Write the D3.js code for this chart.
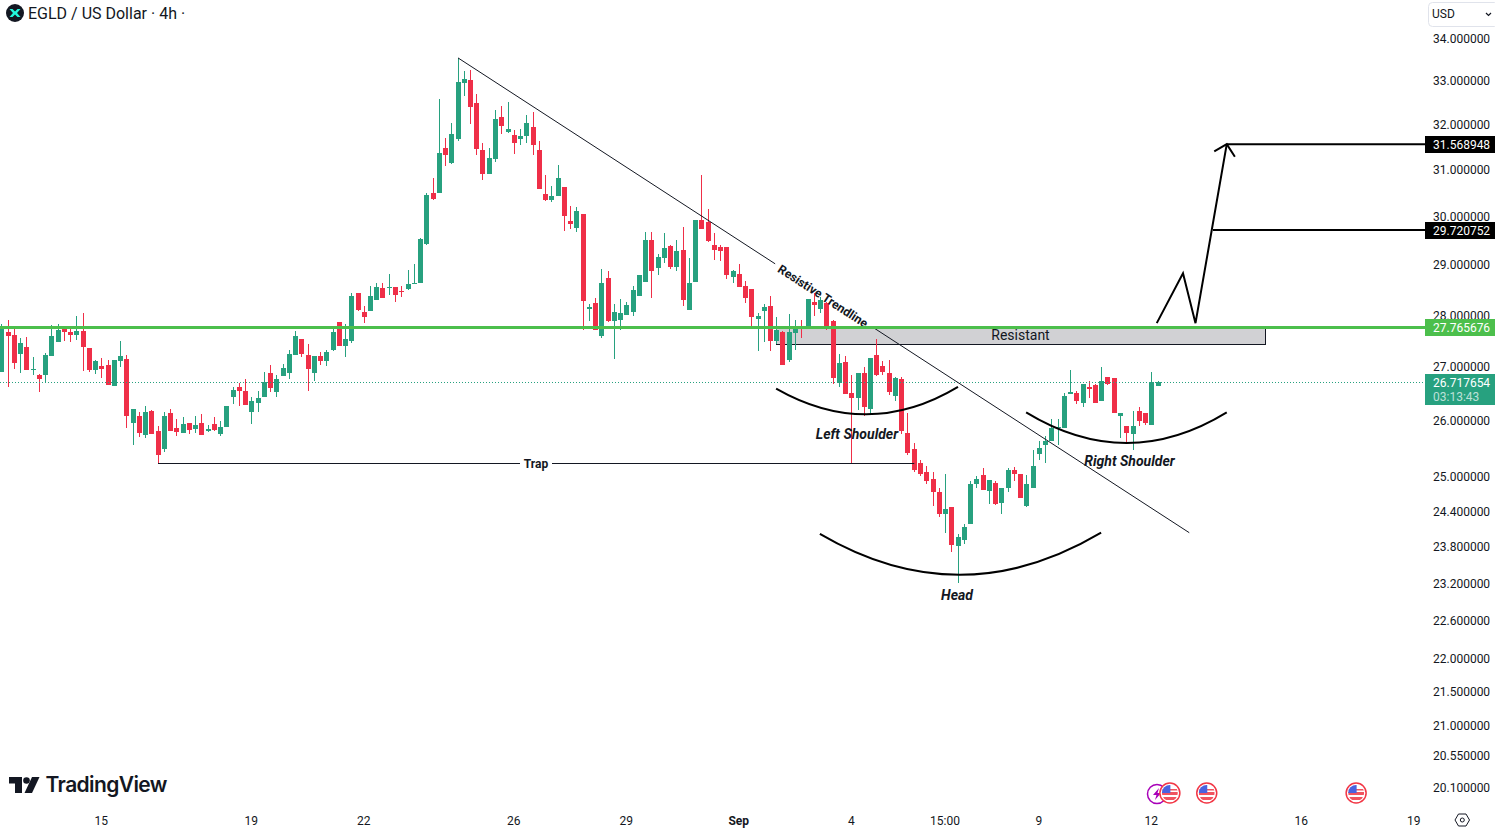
<!DOCTYPE html>
<html>
<head>
    <meta charset="utf-8">
    <script src="https://d3js.org/d3.v7.min.js"></script>
    <style>
        html, body{
            margin: 0;
            padding: 0;
            background: #fff;
            overflow: hidden;
        }

        svg{
            display: block;
            font-family: Roboto, sans-serif;
        }

        .axis .domain, .axis line{
            display: none;
        }

        .axis text{
            font-family: Roboto, sans-serif;
            font-size: 12px;
            fill: #131722;
        }

        .note{
            font-weight: 700;
            font-style: italic;
            font-size: 14px;
            fill: #131722;
            text-anchor: middle;
        }

        .price-tag{
            font-size: 12px;
            fill: #fff;
        }
    </style>
</head>
<body>
    <div id="chart"></div>
    <script>
        // 4h candles
        var opens = [
            26.90,27.66,27.60,27.24,27.38,26.94,26.85,26.85,27.21,27.47,
            27.78,27.66,27.60,27.68,27.36,26.94,27.01,27.03,26.64,27.11,
            27.15,25.95,26.09,25.74,26.18,25.81,25.49,26.13,25.87,25.78,
            25.95,25.85,25.95,25.81,25.94,25.76,25.88,26.44,26.62,26.55,
            26.15,26.33,26.44,26.88,26.53,26.83,26.88,27.23,27.53,27.23,
            26.88,27.21,27.11,27.32,27.86,27.40,27.49,28.43,28.05,28.07,
            28.29,28.53,28.53,28.55,28.47,28.51,28.61,28.63,29.44,30.51,
            30.51,31.49,31.16,31.69,32.96,33.03,32.50,31.45,30.92,31.25,
            32.18,31.85,31.78,31.69,31.76,31.96,31.45,30.49,30.36,30.43,
            30.64,29.92,29.77,30.06,28.11,28.23,27.58,28.73,27.88,27.90,
            28.00,28.05,28.37,28.65,29.52,28.93,29.15,29.38,28.95,29.30,
            28.09,28.65,29.94,29.88,29.40,29.36,29.36,28.75,28.81,28.57,
            28.51,27.92,28.07,28.17,27.49,27.66,27.13,27.64,27.74,27.72,
            28.25,28.11,28.23,27.88,26.70,27.09,26.51,26.42,26.88,26.22,
            27.23,27.01,26.88,26.46,26.77,25.78,25.49,25.24,25.07,24.96,
            24.72,24.35,24.46,23.81,23.91,24.18,24.86,25.03,24.75,24.89,
            24.54,24.80,25.12,25.05,24.49,24.79,25.40,25.56,25.63,25.87,
            25.87,26.49,26.51,26.33,26.62,26.66,26.35,26.81,26.79,26.09,
            25.90,25.76,26.18,26.13,25.92,26.64
        ];
        var highs = [
            27.82,27.90,27.72,27.55,27.57,27.19,26.86,27.26,27.80,27.82,
            27.78,27.78,27.98,28.03,27.36,27.13,27.17,27.13,27.13,27.49,
            27.23,26.22,26.16,26.27,26.20,25.90,26.16,26.22,26.02,26.07,
            25.95,26.09,26.11,25.92,26.07,25.99,26.27,26.62,26.70,26.77,
            26.44,26.55,26.90,27.03,26.85,27.05,27.32,27.68,27.53,27.43,
            27.21,27.28,27.32,27.72,27.86,27.82,28.43,28.43,28.17,28.57,
            28.63,28.63,28.81,28.55,28.57,28.89,29.03,29.56,30.51,30.83,
            32.59,31.71,32.05,33.54,33.24,33.26,32.69,31.60,31.49,32.34,
            32.43,32.52,31.89,31.91,32.23,32.30,31.63,30.90,30.66,31.12,
            30.64,30.23,30.21,30.06,28.21,28.33,28.91,28.87,28.21,28.31,
            28.25,28.57,28.79,29.67,29.67,29.22,29.65,29.42,29.52,29.79,
            29.15,29.94,30.90,30.17,29.65,29.42,29.36,28.89,29.03,28.67,
            28.51,28.03,28.21,28.37,27.96,27.68,28.01,27.90,27.90,28.31,
            28.43,28.35,28.25,27.90,27.24,27.21,26.85,26.88,26.99,27.17,
            27.53,27.11,27.13,26.81,26.81,26.13,25.60,25.28,25.19,25.07,
            24.80,25.05,24.46,24.01,24.18,24.91,25.01,25.14,24.94,24.92,
            24.80,25.14,25.17,25.05,25.03,25.47,25.63,25.72,26.02,26.02,
            26.51,26.94,26.55,26.68,26.73,26.68,26.99,26.81,26.79,26.13,
            25.90,26.18,26.24,26.13,26.90,26.73
        ];
        var lows = [
            26.90,26.62,26.96,26.88,26.94,26.85,26.53,26.71,27.21,27.47,
            27.49,27.47,27.51,26.92,26.90,26.86,26.79,26.66,26.64,26.99,
            25.87,25.56,25.70,25.69,25.76,25.24,25.44,25.81,25.72,25.78,
            25.76,25.78,25.74,25.79,25.81,25.72,25.88,26.31,26.27,26.29,
            25.94,26.16,26.44,26.53,26.44,26.83,26.77,27.23,27.19,26.55,
            26.73,27.03,27.01,27.30,27.40,27.19,27.45,28.07,27.84,28.07,
            28.29,28.33,28.39,28.25,28.35,28.49,28.61,28.63,29.40,30.36,
            30.51,31.08,31.14,31.63,32.66,32.01,31.34,30.79,30.92,31.18,
            31.80,31.82,31.36,31.54,31.60,31.32,30.58,30.34,30.32,30.43,
            29.71,29.75,29.69,27.70,27.88,27.70,27.55,27.86,27.15,27.70,
            28.00,27.98,28.37,28.65,28.33,28.79,29.05,28.91,28.87,28.17,
            28.09,28.65,29.75,29.48,29.11,29.09,28.71,28.63,28.55,28.23,
            27.72,27.30,27.47,27.30,27.43,27.03,27.09,27.32,27.55,27.72,
            27.98,28.03,27.70,26.68,26.62,26.49,25.21,26.20,26.09,26.11,
            26.83,26.85,26.47,26.36,25.76,25.37,25.07,25.01,24.87,24.49,
            24.30,24.03,23.70,23.19,23.84,24.18,24.79,24.77,24.52,24.51,
            24.35,24.73,24.92,24.63,24.47,24.79,25.29,25.23,25.63,25.56,
            25.87,26.49,26.31,26.25,26.42,26.33,26.35,26.66,26.13,25.69,
            25.61,25.47,25.90,25.92,25.92,26.64
        ];
        var closes = [
            27.74,27.58,27.07,27.45,26.94,26.96,26.77,27.23,27.58,27.70,
            27.66,27.60,27.68,27.38,26.94,27.11,26.96,26.66,27.13,27.21,
            26.09,26.22,25.78,26.16,25.76,25.37,26.09,25.81,25.79,25.94,
            25.83,25.92,25.74,25.85,25.83,25.88,26.27,26.57,26.55,26.29,
            26.35,26.42,26.71,26.60,26.77,26.98,27.24,27.58,27.24,26.96,
            27.21,27.11,27.28,27.66,27.40,27.53,28.37,28.09,27.96,28.37,
            28.55,28.33,28.55,28.39,28.45,28.61,28.63,29.54,30.47,30.38,
            31.38,31.34,31.80,32.98,33.05,32.41,31.47,30.92,31.27,32.12,
            31.98,31.91,31.60,31.74,32.03,31.56,30.58,30.36,30.45,30.83,
            30.02,29.84,30.13,28.27,28.15,27.70,28.63,27.88,28.05,28.03,
            28.19,28.49,28.79,29.52,28.87,29.17,29.34,28.95,29.28,28.29,
            28.63,29.94,29.75,29.50,29.30,29.28,28.79,28.87,28.55,28.33,
            27.96,27.98,28.15,27.49,27.70,27.03,27.66,27.74,27.72,28.31,
            28.19,28.29,27.78,26.79,27.07,26.49,26.42,26.88,26.24,27.17,
            26.85,26.90,26.53,26.79,25.81,25.42,25.12,25.05,24.91,24.72,
            24.35,24.44,23.83,23.96,24.13,24.87,24.96,24.77,24.94,24.52,
            24.80,25.12,25.05,24.63,24.87,25.19,25.51,25.63,25.87,25.88,
            26.46,26.53,26.35,26.68,26.59,26.33,26.73,26.68,26.13,26.13,
            25.78,25.90,25.99,25.95,26.71,26.72
        ];

        // axis ticks
        var priceTicks = [34, 33, 32, 31, 30, 29, 28, 27, 26, 25, 24.4, 23.8, 23.2, 22.6, 22, 21.5, 21, 20.55, 20.1];
        var timeTicks = [16, 40, 58, 82, 100, 118, 136, 151, 166, 184, 208, 226];
        var timeLabels = ["15", "19", "22", "26", "29", "Sep", "4", "15:00", "9", "12", "16", "19"];

        // price levels
        var lastPrice = 26.717654;
        var resistLevel = 27.765676;
        var targetOne = 29.720752;
        var targetTwo = 31.568948;
        var trapPrice = 25.235;

        // drawings, [candle index, price]
        var trendPoints = [[73, 33.54], [190, 24.03]];
        var zoneCorners = [[123.9, 27.765676], [202.1, 27.42]];
        var leftArc = [[123.9, 26.59], [138.6, 25.63], [153, 26.62]];
        var headArc = [[130.9, 24.01], [153.4, 22.66], [175.9, 24.03]];
        var rightArc = [[163.9, 26.15], [180, 25.05], [196, 26.15]];
        var arrowPath = [[184.8, 27.84], [189, 28.83], [191, 27.84], [196, 31.568948]];
        var arrowHead = [[194, 31.41], [196, 31.568948], [197.3, 31.29]];
        var trapSpan = [25, 146];
        var targetOneStart = 193.8;
        var eventSlots = [186.9, 192.8, 216.7];

        var width = 1495,
            height = 831;

        var x = d3.scaleLinear().domain([0, 226]).range([1.75, 1414.25]);
        var y = d3.scaleLog().domain([34, 20.1]).range([38.5, 787]);
        // same scale, nudged so the label rows land where the reference has them
        var yAxisScale = y.copy().range([38.3, 787.6]);

        var green = "#27a17f",
            red = "#ef2f48",
            dark = "#131722",
            levelGreen = "#4cbf4c";

        var svg = d3.select("#chart").append("svg")
            .attr("width", width)
            .attr("height", height)
            .style("background", "#fff");

        var candles = d3.range(opens.length).map(function(i) {
            return {i: i, o: opens[i], h: highs[i], l: lows[i], c: closes[i]};
        });

        function crisp(v) {
            return Math.round(v - 0.5) + 0.5;
        }

        var line = d3.line()
            .x(function(d) { return x(d[0]); })
            .y(function(d) { return y(d[1]); });

        // quadratic arc through a control point, for the head and shoulders
        function arcPath(p) {
            var path = d3.path();
            path.moveTo(x(p[0][0]), y(p[0][1]));
            path.quadraticCurveTo(x(p[1][0]), y(p[1][1]), x(p[2][0]), y(p[2][1]));
            return path.toString();
        }

        // resistance zone goes under the candles
        svg.append("rect")
            .attr("x", crisp(x(zoneCorners[0][0])))
            .attr("y", crisp(y(zoneCorners[0][1])))
            .attr("width", Math.round(x(zoneCorners[1][0]) - x(zoneCorners[0][0])))
            .attr("height", Math.round(y(zoneCorners[1][1]) - y(zoneCorners[0][1])))
            .attr("fill", "#d1d1d4")
            .attr("stroke", dark)
            .attr("stroke-width", 1);

        // candles
        var candle = svg.append("g").attr("shape-rendering", "crispEdges")
            .selectAll("g")
            .data(candles)
            .enter().append("g")
            .attr("fill", function(d) { return d.c >= d.o ? green : red; })
            .attr("stroke", function(d) { return d.c >= d.o ? green : red; });

        candle.append("line")
            .attr("x1", function(d) { return crisp(x(d.i)); })
            .attr("x2", function(d) { return crisp(x(d.i)); })
            .attr("y1", function(d) { return y(d.h); })
            .attr("y2", function(d) { return y(d.l); });

        candle.append("rect")
            .attr("x", function(d) { return crisp(x(d.i)) - 2.5; })
            .attr("width", 5)
            .attr("y", function(d) { return Math.round(y(Math.max(d.o, d.c))); })
            .attr("height", function(d) { return Math.max(1, Math.round(y(Math.min(d.o, d.c))) - Math.round(y(Math.max(d.o, d.c)))); })
            .attr("stroke", "none");

        // last price dotted line
        svg.append("line")
            .attr("x1", 0)
            .attr("x2", 1425)
            .attr("y1", Math.round(y(lastPrice)) + 0.5)
            .attr("y2", Math.round(y(lastPrice)) + 0.5)
            .attr("stroke", green)
            .attr("stroke-dasharray", "1,2");

        // trend line, broken where its label sits
        var tx = d3.interpolateNumber(trendPoints[0][0], trendPoints[1][0]);
        var tp = d3.interpolateNumber(y(trendPoints[0][1]), y(trendPoints[1][1]));
        [[0, 0.4337], [0.5677, 1]].forEach(function(s) {
            svg.append("line")
                .attr("x1", x(tx(s[0])))
                .attr("y1", tp(s[0]))
                .attr("x2", x(tx(s[1])))
                .attr("y2", tp(s[1]))
                .attr("stroke", dark)
                .attr("stroke-width", 1);
        });

        svg.append("text")
            .attr("class", "note")
            .attr("transform", "translate(823,296) rotate(33)")
            .attr("dy", "0.35em")
            .style("font-style", "normal")
            .style("font-size", "12.2px")
            .text("Resistive Trendline");

        // trap line
        var trapY = crisp(y(trapPrice));
        [[x(trapSpan[0]), 520], [552, x(trapSpan[1])]].forEach(function(s) {
            svg.append("line")
                .attr("x1", s[0]).attr("x2", s[1])
                .attr("y1", trapY).attr("y2", trapY)
                .attr("stroke", dark);
        });
        svg.append("text")
            .attr("class", "note")
            .attr("x", 536)
            .attr("y", trapY)
            .attr("dy", "0.35em")
            .style("font-style", "normal")
            .style("font-size", "12px")
            .text("Trap");

        // head and shoulders
        [leftArc, headArc, rightArc].forEach(function(a) {
            svg.append("path")
                .attr("d", arcPath(a))
                .attr("fill", "none")
                .attr("stroke", "#000")
                .attr("stroke-width", 2);
        });

        svg.append("text").attr("class", "note").attr("x", 857).attr("y", 439).text("Left Shoulder");
        svg.append("text").attr("class", "note").attr("x", 1129.5).attr("y", 466).text("Right Shoulder");
        svg.append("text").attr("class", "note").attr("x", 957).attr("y", 600).text("Head");

        svg.append("text")
            .attr("x", 1020.5)
            .attr("y", 335)
            .attr("dy", "0.35em")
            .attr("text-anchor", "middle")
            .attr("font-size", 14)
            .attr("fill", dark)
            .text("Resistant");

        // projected move
        svg.append("path")
            .attr("d", line(arrowPath))
            .attr("fill", "none")
            .attr("stroke", "#000")
            .attr("stroke-width", 2);
        svg.append("path")
            .attr("d", line(arrowHead))
            .attr("fill", "none")
            .attr("stroke", "#000")
            .attr("stroke-width", 2);
        svg.append("line")
            .attr("x1", x(arrowPath[3][0])).attr("x2", 1425)
            .attr("y1", y(targetTwo)).attr("y2", y(targetTwo))
            .attr("stroke", "#000").attr("stroke-width", 2);
        svg.append("line")
            .attr("x1", x(targetOneStart)).attr("x2", 1425)
            .attr("y1", y(targetOne)).attr("y2", y(targetOne))
            .attr("stroke", "#000").attr("stroke-width", 2);

        // resistance level
        svg.append("line")
            .attr("x1", 0).attr("x2", 1425)
            .attr("y1", Math.round(y(resistLevel)) + 0.5).attr("y2", Math.round(y(resistLevel)) + 0.5)
            .attr("stroke", levelGreen)
            .attr("stroke-width", 3);

        // axes
        svg.append("g")
            .attr("class", "axis")
            .attr("transform", "translate(1433,0.09)")
            .call(d3.axisRight(yAxisScale)
                .tickValues(priceTicks)
                .tickSize(0)
                .tickPadding(0)
                .tickFormat(function(d) { return d.toFixed(6); }));

        svg.append("g")
            .attr("class", "axis")
            .attr("transform", "translate(-1,816)")
            .call(d3.axisBottom(x)
                .tickValues(timeTicks)
                .tickSize(0)
                .tickPadding(0)
                .tickFormat(function(d, i) { return timeLabels[i]; }))
            .selectAll("text")
            .style("font-weight", function(d, i) { return timeLabels[i] == "Sep" ? 700 : 400; });

        // price tags on the axis
        function priceTag(price, fill) {
            var py = Math.round(y(price));
            svg.append("rect")
                .attr("x", 1425).attr("y", py - 8)
                .attr("width", 70).attr("height", 17)
                .attr("fill", fill);
            svg.append("text")
                .attr("class", "price-tag")
                .attr("x", 1433).attr("y", py + 0.5)
                .attr("dy", "0.35em")
                .text(price.toFixed(6));
        }
        priceTag(targetTwo, "#000");
        priceTag(targetOne, "#000");
        priceTag(resistLevel, levelGreen);

        svg.append("rect")
            .attr("x", 1425).attr("y", 374)
            .attr("width", 70).attr("height", 31)
            .attr("fill", green);
        svg.append("text")
            .attr("class", "price-tag")
            .attr("x", 1433).attr("y", 383)
            .attr("dy", "0.35em")
            .text(lastPrice.toFixed(6));
        svg.append("text")
            .attr("class", "price-tag")
            .attr("x", 1433).attr("y", 397)
            .attr("dy", "0.35em")
            .attr("fill-opacity", 0.7)
            .text("03:13:43");

        // header
        var logo = svg.append("g").attr("transform", "translate(15,13)");
        logo.append("circle").attr("r", 9).attr("fill", dark);
        logo.append("path")
            .attr("d", "M-5.5,-4 L-2.5,-4 L0,-1.4 L2.5,-4 L5.5,-4 L2,0 L5.5,4 L2.5,4 L0,1.4 L-2.5,4 L-5.5,4 L-2,0 Z")
            .attr("fill", "#23f7dd");

        svg.append("text")
            .attr("x", 28)
            .attr("y", 13)
            .attr("dy", "0.35em")
            .attr("font-size", 16)
            .attr("fill", dark)
            .text("EGLD / US Dollar · 4h ·");

        // currency box
        svg.append("rect")
            .attr("x", 1428.5).attr("y", 2.5)
            .attr("width", 70).attr("height", 24)
            .attr("rx", 4)
            .attr("fill", "#fff")
            .attr("stroke", "#e0e3eb");
        svg.append("text")
            .attr("x", 1432).attr("y", 14)
            .attr("dy", "0.35em")
            .attr("font-size", 12)
            .attr("fill", dark)
            .text("USD");
        svg.append("path")
            .attr("d", "M1486,13 L1488.5,15.5 L1491,13")
            .attr("fill", "none")
            .attr("stroke", dark)
            .attr("stroke-width", 1.2);

        // TradingView mark
        var tv = svg.append("g").attr("fill", dark);
        tv.append("path").attr("d", "M9,777 H22 V793 H15 V783.5 H9 Z");
        tv.append("circle").attr("cx", 26.5).attr("cy", 780.5).attr("r", 3.3);
        tv.append("path").attr("d", "M32,777 H39.5 L32,793 H24.5 Z");
        tv.append("text")
            .attr("x", 45.5)
            .attr("y", 792)
            .attr("font-family", "Inter, sans-serif")
            .attr("font-weight", 600)
            .attr("font-size", 21)
            .attr("textLength", 122)
            .text("TradingView");

        // economic calendar markers
        var bolt = svg.append("g").attr("transform", "translate(1157,794)");
        bolt.append("circle").attr("r", 9.5).attr("fill", "#fff").attr("stroke", "#a800b8").attr("stroke-width", 1.5);
        bolt.append("path").attr("d", "M2,-6 L-4,1 L-0.5,1 L-2,6 L4,-1 L0.5,-1 Z").attr("fill", "#a800b8");

        eventSlots.forEach(function(slot, n) {
            var g = svg.append("g").attr("transform", "translate(" + x(slot) + ",793)");
            g.append("circle").attr("r", 10).attr("fill", "#fff").attr("stroke", "#f23645").attr("stroke-width", 1.5);
            g.append("clipPath").attr("id", "flag" + n).append("circle").attr("r", 8);
            var flag = g.append("g").attr("clip-path", "url(#flag" + n + ")");
            flag.append("rect").attr("x", -8).attr("y", -8).attr("width", 16).attr("height", 16).attr("fill", "#fff");
            flag.append("rect").attr("x", -8).attr("y", -1).attr("width", 16).attr("height", 3).attr("fill", "#f0535f");
            flag.append("rect").attr("x", -8).attr("y", 4).attr("width", 16).attr("height", 3).attr("fill", "#f0535f");
            flag.append("rect").attr("x", -8).attr("y", -4).attr("width", 16).attr("height", 1.5).attr("fill", "#f0535f");
            flag.append("rect").attr("x", -8).attr("y", -8).attr("width", 8.5).attr("height", 8).attr("fill", "#4a62e0");
        });

        // settings icon
        svg.append("path")
            .attr("d", "M1458.5,814 H1466 L1469.5,820 L1466,826 H1458.5 L1455,820 Z")
            .attr("fill", "none")
            .attr("stroke", dark);
        svg.append("circle")
            .attr("cx", 1462.3).attr("cy", 820).attr("r", 2)
            .attr("fill", "none")
            .attr("stroke", dark);
    </script>
</body>
</html>
